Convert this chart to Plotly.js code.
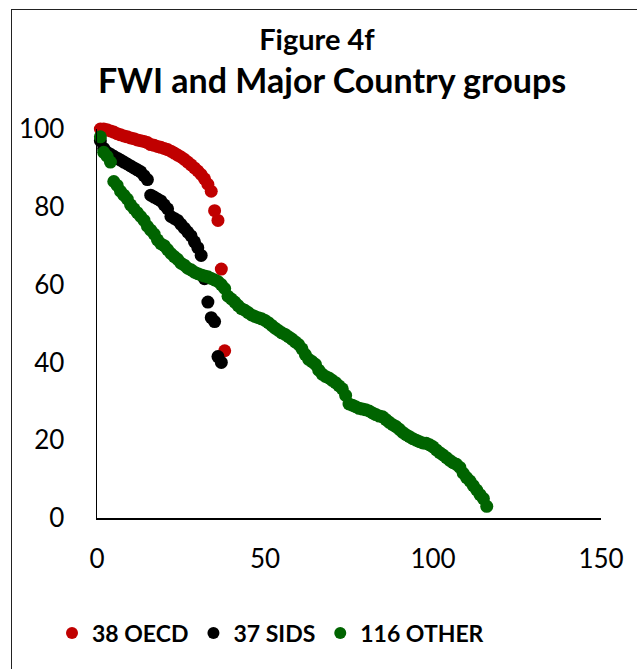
<!DOCTYPE html>
<html>
<head>
<meta charset="utf-8">
<script src="https://cdn.plot.ly/plotly-3.0.1.min.js"></script>
<style>
  html, body { margin: 0; padding: 0; background: #fff; overflow: hidden; }
  #frame { position: absolute; left: 11px; top: 9px; width: 700px; height: 700px;
           border: 1.5px solid #222; box-sizing: border-box; }
  #chart { position: absolute; left: 0; top: 0; width: 637px; height: 669px; }
</style>
</head>
<body>
<div id="frame"></div>
<div id="chart"></div>
<script>
// FWI scores of each country group, sorted from highest to lowest (x = rank within group)
const oecdLabel = "38 OECD";
const oecdFWI = [100, 100, 99.8, 99.5, 99.2, 98.8, 98.5, 98.2, 98, 97.7,
  97.5, 97.2, 97, 96.8, 96.5, 96, 95.8, 95.5, 95.3, 95,
  94.7, 94.3, 93.8, 93.3, 92.8, 92.2, 91.5, 90.8, 90, 89.2,
  88.3, 87.2, 85.8, 84, 79, 76.5, 64, 43];

const sidsLabel = "37 SIDS";
const sidsFWI = [97, 95, 94, 93.5, 93, 92.5, 92, 91.5, 91, 90.5,
  90, 89.5, 89, 88, 87, 83, 82.5, 82, 81.5, 80.5,
  79.5, 77.5, 77, 76.5, 75.5, 74.5, 73.5, 72.5, 71, 69.5,
  67.5, 61.5, 55.5, 51.5, 50.5, 41.5, 40];

const otherLabel = "116 OTHER";
const otherFWI = [98, 94, 93, 91.5, 86.5, 85.5, 84, 83, 82, 80.5,
  79.5, 78.5, 77.5, 76.5, 75, 74, 73, 71.5, 70.5, 70,
  69, 68, 67.2, 66.5, 65.5, 65, 64.2, 63.8, 63.2, 62.8,
  62.5, 62.2, 62, 61.6, 61.2, 60.8, 60, 59, 57, 56.3,
  55.5, 54.6, 53.8, 53.4, 52.8, 52.2, 51.8, 51.5, 51.2, 50.8,
  50.2, 49.5, 48.8, 48.2, 47.6, 47.2, 46.6, 46, 45.3, 44.6,
  43.5, 42, 40.8, 40.2, 39.5, 38, 37, 36.4, 36, 35.4,
  34.8, 34, 33.2, 31.5, 29.3, 29, 28.6, 28.2, 28, 27.8,
  27.5, 27, 26.6, 26.2, 26, 25.3, 24.6, 24, 23.5, 22.8,
  22, 21.4, 20.9, 20.4, 20, 19.6, 19.3, 19.2, 18.8, 18.3,
  17.5, 16.8, 16.2, 15.5, 14.8, 14.2, 13.8, 13, 11.5, 10.4,
  9.5, 8.3, 7.2, 6, 5, 3];

const xTicks = [0, 50, 100, 150];
const yTicks = [0, 20, 40, 60, 80, 100];

const FONT = "Lato, 'Open Sans', sans-serif";

function ranks(values) { return values.map((_, i) => i + 1); }

function group(name, values, color) {
  return {
    type: "scatter", mode: "markers", name: name,
    x: ranks(values), y: values,
    cliponaxis: false,
    marker: { color: color, size: 13, line: { width: 0 } },
    hoverinfo: "x+y"
  };
}

const data = [
  group(oecdLabel, oecdFWI, "#C00000"),
  group(sidsLabel, sidsFWI, "#000000"),
  group(otherLabel, otherFWI, "#006400")
];

const layout = {
  width: 637, height: 669,
  margin: { l: 97, r: 36, t: 129, b: 151, pad: 0 },
  paper_bgcolor: "rgba(0,0,0,0)",
  plot_bgcolor: "rgba(0,0,0,0)",
  font: { family: FONT, color: "#000", size: 20 },
  title: {
    text: "<b>Figure 4f</b>",
    font: { family: FONT, size: 29, color: "#000" },
    xref: "container", yref: "container",
    x: 317 / 637, xanchor: "center",
    y: 1 - 40 / 669, yanchor: "middle"
  },
  annotations: [{
    text: "<b>FWI and Major Country groups</b>",
    xref: "paper", yref: "paper",
    x: (332 - 97) / 504, xanchor: "center",
    y: (518 - 79) / 389, yanchor: "middle",
    showarrow: false,
    font: { family: FONT, size: 34, color: "#000" }
  }],
  xaxis: {
    range: [0, 150], tickvals: xTicks, ticks: "",
    showgrid: false, zeroline: false,
    showline: true, linecolor: "#000", linewidth: 1.5,
    ticklabelstandoff: 17,
    tickfont: { family: FONT, size: 26, color: "#000" },
    fixedrange: true
  },
  yaxis: {
    range: [0, 100], tickvals: yTicks, ticks: "",
    showgrid: false, zeroline: false,
    showline: true, linecolor: "#000", linewidth: 1.5,
    ticklabelstandoff: 26,
    tickfont: { family: FONT, size: 26, color: "#000" },
    fixedrange: true
  },
  showlegend: true,
  legend: {
    orientation: "h",
    x: (52 - 97) / 504, xanchor: "left",
    y: -(633 - 518) / 389, yanchor: "middle",
    font: { family: FONT, size: 23, color: "#000", weight: "bold" },
    bgcolor: "rgba(0,0,0,0)",
    itemsizing: "constant",
    itemclick: false, itemdoubleclick: false
  }
};

Plotly.newPlot("chart", data, layout, { displayModeBar: false, staticPlot: true });
</script>
</body>
</html>
